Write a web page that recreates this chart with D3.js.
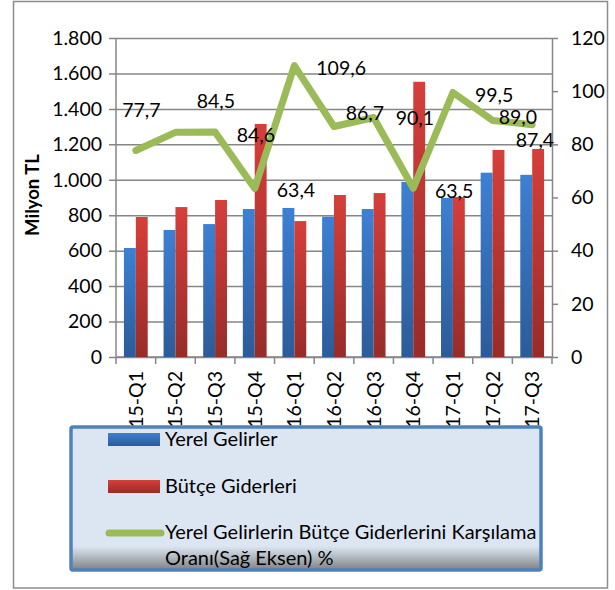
<!DOCTYPE html>
<html>
<head>
<meta charset="utf-8">
<script src="https://cdn.jsdelivr.net/npm/d3@7"></script>
<style>
  body { margin: 0; background: #fff; }
  text { font-family: Lato, "Noto Sans", sans-serif; fill: #000; }
</style>
</head>
<body>
<svg></svg>
<script>
// data
var categories = ['15-Q1', '15-Q2', '15-Q3', '15-Q4', '16-Q1', '16-Q2', '16-Q3', '16-Q4', '17-Q1', '17-Q2', '17-Q3'];
var yerelGelirler = [615, 717, 750, 835, 841, 792, 835, 988, 898, 1040, 1028];
var butceGiderleri = [790, 846, 886, 1315, 767, 914, 925, 1553, 903, 1168, 1174];
var oran = [77.7, 84.5, 84.6, 63.4, 109.6, 86.7, 90.1, 63.5, 99.5, 89.0, 87.4];
var leftTicks = [0, 200, 400, 600, 800, 1000, 1200, 1400, 1600, 1800];
var rightTicks = [0, 20, 40, 60, 80, 100, 120];
// where each ratio label sits (band position, right axis value)
var labelBand = [0.64, 2.52, 3.53, 4.54, 5.68, 6.28, 7.54, 8.53, 9.54, 10.14, 10.57];
var labelLevel = [92.9, 96.3, 83.5, 62.8, 108.7, 91.8, 89.9, 62.5, 98.6, 90.3, 81.6];

var width = 615;
var height = 590;
var plot = {left: 116, right: 552, top: 38, bottom: 357};
var fs = 19.5;

var tr = d3.formatLocale({decimal: ',', thousands: '.', grouping: [3], currency: ['', '']});
var fmtThousands = tr.format(',');
var fmtOne = tr.format('.1f');

var svg = d3.select('svg')
    .attr('width', width)
    .attr('height', height);

var defs = svg.append('defs');
function grad(id, top, bottom) {
  var g = defs.append('linearGradient')
      .attr('id', id)
      .attr('x1', 0).attr('y1', 0).attr('x2', 0).attr('y2', 1);
  g.append('stop').attr('offset', '0%').attr('stop-color', top);
  g.append('stop').attr('offset', '100%').attr('stop-color', bottom);
}
grad('gBlue', '#3d80d4', '#2c5b98');
grad('gRed', '#d63f3a', '#972c29');
grad('gShade', 'rgba(120,120,120,0)', 'rgba(110,110,110,0.85)');

// outer frame
svg.append('rect')
    .attr('x', 13.5).attr('y', 1.5)
    .attr('width', 594).attr('height', 586.5)
    .attr('fill', 'none')
    .attr('stroke', '#8c8c8c')
    .attr('stroke-width', 1.5);

var xScale = d3.scaleBand()
    .domain(categories)
    .range([plot.left, plot.right]);

var yLeft = d3.scaleLinear()
    .domain([0, 1800])
    .range([plot.bottom, plot.top]);

var yRight = d3.scaleLinear()
    .domain([0, 120])
    .range([plot.bottom, plot.top]);

var bandPos = d3.scaleLinear()
    .domain([0, categories.length])
    .range([plot.left, plot.right]);

var barW = xScale.bandwidth() * 0.3;

// gridlines + left axis
var yAxis = d3.axisLeft(yLeft)
    .tickValues(leftTicks)
    .tickFormat(fmtThousands)
    .tickSize(-(plot.right - plot.left))
    .tickSizeOuter(0)
    .tickPadding(14);

var gy = svg.append('g')
    .attr('transform', 'translate(' + plot.left + ',0)')
    .call(yAxis);
gy.select('.domain').remove();
gy.selectAll('.tick line')
    .attr('x1', -7)
    .attr('stroke', '#868686')
    .attr('stroke-width', 1.5);
gy.selectAll('.tick text')
    .attr('font-size', fs)
    .style('font-family', 'Lato, sans-serif');

svg.append('line')
    .attr('x1', plot.left).attr('x2', plot.left)
    .attr('y1', plot.top).attr('y2', plot.bottom)
    .attr('stroke', '#868686').attr('stroke-width', 1.5);

// right axis
var yAxisR = d3.axisRight(yRight)
    .tickValues(rightTicks)
    .tickSize(6)
    .tickSizeOuter(0)
    .tickPadding(13);

var gr = svg.append('g')
    .attr('transform', 'translate(' + plot.right + ',0)')
    .call(yAxisR);
gr.select('.domain').attr('stroke', '#868686').attr('stroke-width', 1.5);
gr.selectAll('.tick line').attr('stroke', '#868686').attr('stroke-width', 1.5);
gr.selectAll('.tick text')
    .attr('font-size', fs)
    .style('font-family', 'Lato, sans-serif');

// bottom axis: ticks at band edges
var edges = d3.range(categories.length + 1);
svg.append('g')
  .selectAll('line')
  .data(edges)
  .enter()
  .append('line')
    .attr('x1', d => bandPos(d)).attr('x2', d => bandPos(d))
    .attr('y1', plot.bottom).attr('y2', plot.bottom + 7)
    .attr('stroke', '#868686').attr('stroke-width', 1.5);

svg.append('line')
    .attr('x1', plot.left).attr('x2', plot.right)
    .attr('y1', plot.bottom).attr('y2', plot.bottom)
    .attr('stroke', '#868686').attr('stroke-width', 1.5);

svg.append('g')
  .selectAll('text')
  .data(categories)
  .enter()
  .append('text')
    .attr('transform', d => 'translate(' + (xScale(d) + xScale.bandwidth() / 2 + 7) + ',' + (plot.bottom + 14) + ') rotate(-90)')
    .attr('text-anchor', 'end')
    .attr('font-size', fs)
    .text(d => d);

// bars
var bars = svg.append('g');
bars.selectAll('rect.blue')
  .data(categories)
  .enter()
  .append('rect')
    .attr('class', 'blue')
    .attr('x', d => xScale(d) + xScale.bandwidth() / 2 - barW)
    .attr('y', (d, i) => yLeft(yerelGelirler[i]))
    .attr('width', barW)
    .attr('height', (d, i) => plot.bottom - yLeft(yerelGelirler[i]))
    .attr('fill', 'url(#gBlue)');

bars.selectAll('rect.red')
  .data(categories)
  .enter()
  .append('rect')
    .attr('class', 'red')
    .attr('x', d => xScale(d) + xScale.bandwidth() / 2)
    .attr('y', (d, i) => yLeft(butceGiderleri[i]))
    .attr('width', barW)
    .attr('height', (d, i) => plot.bottom - yLeft(butceGiderleri[i]))
    .attr('fill', 'url(#gRed)');

// ratio line
var line = d3.line()
    .x((d, i) => xScale(categories[i]) + xScale.bandwidth() / 2)
    .y(d => yRight(d));

svg.append('path')
    .datum(oran)
    .attr('d', line)
    .attr('fill', 'none')
    .attr('stroke', '#9bbb59')
    .attr('stroke-width', 7)
    .attr('stroke-linejoin', 'round')
    .attr('stroke-linecap', 'round');

svg.append('g')
  .selectAll('text')
  .data(oran)
  .enter()
  .append('text')
    .attr('x', (d, i) => bandPos(labelBand[i]))
    .attr('y', (d, i) => yRight(labelLevel[i]))
    .attr('dy', '0.35em')
    .attr('text-anchor', 'middle')
    .attr('font-size', fs)
    .text(d => fmtOne(d));

// y title
svg.append('text')
    .attr('transform', 'rotate(-90)')
    .attr('x', -195)
    .attr('y', 39)
    .attr('text-anchor', 'middle')
    .attr('font-size', 18.5)
    .attr('font-weight', 'bold')
    .text('Milyon TL');

// legend
var lg = svg.append('g');
lg.append('rect')
    .attr('x', 71).attr('y', 427)
    .attr('width', 470).attr('height', 143)
    .attr('fill', '#dce6f2');
lg.append('rect')
    .attr('x', 71).attr('y', 546)
    .attr('width', 470).attr('height', 24)
    .attr('fill', 'url(#gShade)');
lg.append('rect')
    .attr('x', 71).attr('y', 427)
    .attr('width', 470).attr('height', 143)
    .attr('rx', 2)
    .attr('fill', 'none')
    .attr('stroke', '#4f81bd')
    .attr('stroke-width', 3.5);

lg.append('rect')
    .attr('x', 108).attr('y', 433)
    .attr('width', 52).attr('height', 13)
    .attr('fill', 'url(#gBlue)');
lg.append('text')
    .attr('x', 165).attr('y', 446)
    .attr('font-size', 20)
    .text('Yerel Gelirler');

lg.append('rect')
    .attr('x', 108).attr('y', 480)
    .attr('width', 52).attr('height', 13)
    .attr('fill', 'url(#gRed)');
lg.append('text')
    .attr('x', 165).attr('y', 493)
    .attr('font-size', 20)
    .text('Bütçe Giderleri');

lg.append('line')
    .attr('x1', 109).attr('x2', 161)
    .attr('y1', 533).attr('y2', 533)
    .attr('stroke', '#9bbb59')
    .attr('stroke-width', 7)
    .attr('stroke-linecap', 'round');
lg.append('text')
    .attr('x', 165).attr('y', 539)
    .attr('font-size', 20)
    .text('Yerel Gelirlerin Bütçe Giderlerini Karşılama');
lg.append('text')
    .attr('x', 165).attr('y', 565)
    .attr('font-size', 20)
    .text('Oranı(Sağ Eksen) %');
</script>
</body>
</html>
